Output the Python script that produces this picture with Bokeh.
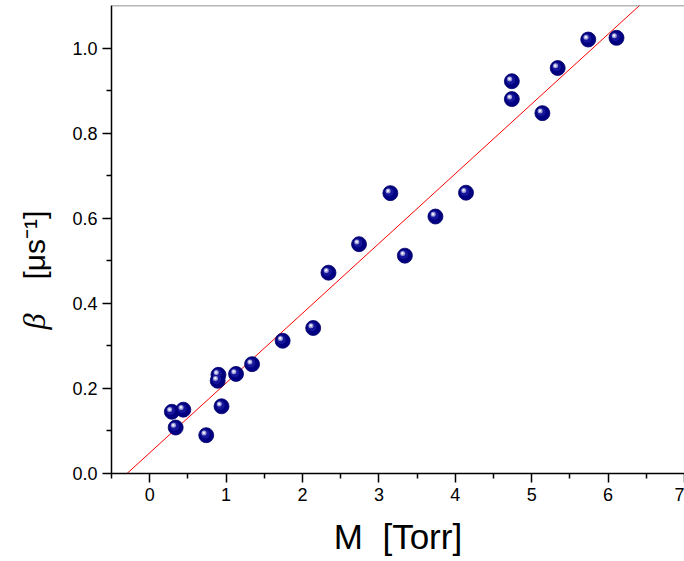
import numpy as np
from bokeh.plotting import figure
from bokeh.models import Range1d, FixedTicker, Span, Label, ColumnDataSource
from bokeh.transform import dodge
from bokeh.embed import file_html
from bokeh.resources import INLINE

# ---- data ----
pressure_torr = [0.29, 0.44, 0.34, 0.74, 0.90, 0.89, 0.94, 1.13, 1.34, 1.74, 2.14, 2.34,
                 2.74, 3.15, 3.34, 3.74, 4.14, 4.74, 4.74, 5.14, 5.34, 5.74, 6.11]
beta_per_us = [0.145, 0.150, 0.108, 0.090, 0.232, 0.218, 0.158, 0.234, 0.257, 0.312, 0.342, 0.472,
               0.539, 0.659, 0.512, 0.604, 0.660, 0.922, 0.880, 0.847, 0.953, 1.020, 1.024]
fit_slope = 0.164
fit_intercept = 0.0486
x_major_ticks = [0, 1, 2, 3, 4, 5, 6, 7]
x_minor_ticks = [-0.5, 0.5, 1.5, 2.5, 3.5, 4.5, 5.5, 6.5]
y_major_ticks = [0.0, 0.2, 0.4, 0.6, 0.8, 1.0]
y_minor_ticks = [0.1, 0.3, 0.5, 0.7, 0.9]

# ---- layout ----
W, H = 684, 561
LEFT, RIGHT, TOP, BOTTOM = 109, 0, 5, 88
X0, X1 = -0.5, 7.0
Y0, Y1 = 0.0, 1.1
frame_w = W - LEFT - RIGHT
frame_h = H - TOP - BOTTOM
ppx = frame_w / (X1 - X0)
ppy = frame_h / (Y1 - Y0)

p = figure(width=W, height=H, output_backend="svg", toolbar_location=None,
           x_range=Range1d(X0, X1), y_range=Range1d(Y0, Y1),
           min_border_left=LEFT, min_border_right=RIGHT,
           min_border_top=TOP, min_border_bottom=BOTTOM)
p.background_fill_color = "white"
p.border_fill_color = "white"
p.outline_line_color = None
p.grid.visible = False

FONT = "Liberation Sans"
for ax in (p.xaxis[0], p.yaxis[0]):
    ax.axis_line_color = "black"
    ax.axis_line_width = 1.5
    ax.major_tick_line_color = "black"
    ax.major_tick_line_width = 1.5
    ax.minor_tick_line_color = "black"
    ax.minor_tick_line_width = 1.5
    ax.major_tick_out = 9
    ax.major_tick_in = 0
    ax.minor_tick_out = 5
    ax.minor_tick_in = 0
    ax.major_label_text_font = FONT
    ax.major_label_text_font_size = "18px"
    ax.major_label_text_color = "black"
    ax.major_label_standoff = 5

p.xaxis[0].ticker = FixedTicker(ticks=x_major_ticks, minor_ticks=x_minor_ticks)
p.yaxis[0].ticker = FixedTicker(ticks=y_major_ticks, minor_ticks=y_minor_ticks)
p.xaxis[0].major_label_overrides = {t: str(t) for t in x_major_ticks}
p.yaxis[0].major_label_overrides = {t: f"{t:.1f}" for t in y_major_ticks}

p.xaxis[0].axis_label = "M\u00a0 [Torr]"
p.xaxis[0].axis_label_text_font = FONT
p.xaxis[0].axis_label_text_font_size = "35px"
p.xaxis[0].axis_label_text_font_style = "normal"
p.xaxis[0].axis_label_text_color = "black"
p.xaxis[0].axis_label_standoff = 13
p.yaxis[0].axis_label = None

# top border line
p.add_layout(Span(location=Y1, dimension="width", line_color="#707070", line_width=1.5))

# fit line
fx = np.array([X0, X1])
p.line(fx, fit_intercept + fit_slope * fx, line_color="red", line_width=1)

# spheres
src = ColumnDataSource(dict(x=pressure_torr, y=beta_per_us))
p.scatter("x", "y", source=src, size=15, fill_color="#000080", line_color="#00006a", line_width=0.8)
p.scatter(dodge("x", -1.2 / ppx, range=p.x_range), dodge("y", 1.2 / ppy, range=p.y_range),
          source=src, size=9, fill_color="#1c1ca0", line_color=None, fill_alpha=0.8)
p.scatter(dodge("x", -2.2 / ppx, range=p.x_range), dodge("y", 2.2 / ppy, range=p.y_range),
          source=src, size=5, fill_color="#9a9ad6", line_color=None)
p.scatter(dodge("x", -2.4 / ppx, range=p.x_range), dodge("y", 2.4 / ppy, range=p.y_range),
          source=src, size=2.5, fill_color="#f0f0fa", line_color=None)

# y-axis title pieces, placed in the left side panel (x relative to each piece's own panel)
def lab(x, py, text, size, font=FONT, style="normal"):
    p.add_layout(Label(x=x, y=(H - BOTTOM) - py, x_units="screen", y_units="screen",
                       text=text, text_font=font, text_font_style=style,
                       text_font_size=size, angle=np.pi / 2, text_align="left",
                       text_baseline="alphabetic", text_color="black"), "left")

lab(-2, 279, "[μs⁻¹]", "30px")
lab(33, 329, "β", "32px", font="Liberation Serif", style="italic")

open("out.html", "w").write(file_html(p, INLINE))
